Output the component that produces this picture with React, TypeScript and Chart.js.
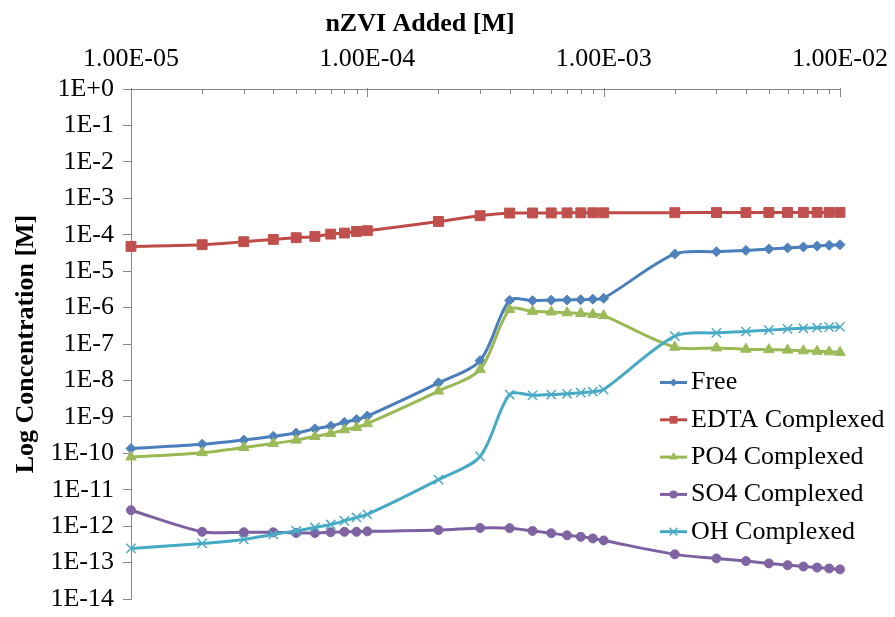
import React, { useEffect, useRef } from 'react';
import { Chart, registerables } from 'chart.js';

Chart.register(...registerables);

// nZVI added [M]
const nzviAdded = [
  1e-5, 2e-5, 3e-5, 4e-5, 5e-5, 6e-5, 7e-5, 8e-5, 9e-5,
  1e-4, 2e-4, 3e-4, 4e-4, 5e-4, 6e-4, 7e-4, 8e-4, 9e-4,
  1e-3, 2e-3, 3e-3, 4e-3, 5e-3, 6e-3, 7e-3, 8e-3, 9e-3,
  1e-2,
];

const freeConc = [
  1.35e-10, 1.77e-10, 2.31e-10, 2.92e-10, 3.6e-10, 4.7e-10, 5.6e-10, 7.1e-10, 8.5e-10,
  1.05e-9, 8.6e-9, 3.5e-8, 1.58e-6, 1.55e-6, 1.6e-6, 1.62e-6, 1.65e-6, 1.7e-6,
  1.8e-6, 2.96e-5, 3.42e-5, 3.71e-5, 4.06e-5, 4.34e-5, 4.6e-5, 4.9e-5, 5.1e-5,
  5.3e-5,
];

const edtaConc = [
  4.78e-5, 5.32e-5, 6.43e-5, 7.43e-5, 8.28e-5, 8.99e-5, 1.04e-4, 1.11e-4, 1.23e-4,
  1.29e-4, 2.31e-4, 3.32e-4, 3.93e-4, 3.95e-4, 3.97e-4, 3.98e-4, 3.99e-4, 4.0e-4,
  4.0e-4, 4.03e-4, 4.05e-4, 4.06e-4, 4.07e-4, 4.08e-4, 4.09e-4, 4.1e-4, 4.1e-4,
  4.1e-4,
];

const po4Conc = [
  7.9e-11, 1.04e-10, 1.44e-10, 1.86e-10, 2.3e-10, 2.9e-10, 3.5e-10, 4.4e-10, 5.1e-10,
  6.5e-10, 5.1e-9, 2.0e-8, 8.8e-7, 7.9e-7, 7.6e-7, 7.2e-7, 6.9e-7, 6.5e-7,
  6.0e-7, 8.2e-8, 7.8e-8, 7.2e-8, 7.0e-8, 6.8e-8, 6.5e-8, 6.3e-8, 6.1e-8,
  5.9e-8,
];

const so4Conc = [
  2.74e-12, 7.0e-13, 6.8e-13, 6.8e-13, 6.5e-13, 6.5e-13, 6.8e-13, 7.0e-13, 7.0e-13,
  7.2e-13, 7.8e-13, 8.9e-13, 8.8e-13, 7.4e-13, 6.4e-13, 5.6e-13, 5.1e-13, 4.6e-13,
  4.05e-13, 1.68e-13, 1.3e-13, 1.1e-13, 9.5e-14, 8.5e-14, 7.8e-14, 7.3e-14, 6.9e-14,
  6.5e-14,
];

const ohConc = [
  2.45e-13, 3.36e-13, 4.32e-13, 5.93e-13, 7.45e-13, 9.2e-13, 1.11e-12, 1.4e-12, 1.73e-12,
  2.09e-12, 1.9e-11, 8.2e-11, 4.1e-9, 3.9e-9, 4.1e-9, 4.3e-9, 4.6e-9, 4.9e-9,
  5.6e-9, 1.64e-7, 2.03e-7, 2.2e-7, 2.4e-7, 2.6e-7, 2.7e-7, 2.8e-7, 2.9e-7,
  2.95e-7,
];

const seriesLabels = ['Free', 'EDTA Complexed', 'PO4 Complexed', 'SO4 Complexed', 'OH Complexed'];

// axis ticks
const xTickValues = [
  1e-5, 2e-5, 3e-5, 4e-5, 5e-5, 6e-5, 7e-5, 8e-5, 9e-5,
  1e-4, 2e-4, 3e-4, 4e-4, 5e-4, 6e-4, 7e-4, 8e-4, 9e-4,
  1e-3, 2e-3, 3e-3, 4e-3, 5e-3, 6e-3, 7e-3, 8e-3, 9e-3,
  1e-2,
];
const xLabelValues = [1e-5, 1e-4, 1e-3, 1e-2];
const xLabels = ['1.00E-05', '1.00E-04', '1.00E-03', '1.00E-02'];
const yTickValues = [1e0, 1e-1, 1e-2, 1e-3, 1e-4, 1e-5, 1e-6, 1e-7, 1e-8, 1e-9, 1e-10, 1e-11, 1e-12, 1e-13, 1e-14];
const yLabels = ['1E+0', '1E-1', '1E-2', '1E-3', '1E-4', '1E-5', '1E-6', '1E-7', '1E-8', '1E-9', '1E-10', '1E-11', '1E-12', '1E-13', '1E-14'];

const FONT = "'Liberation Serif', 'Times New Roman', serif";
const AXIS_GRAY = '#868686';

const styles = [
  { line: '#4A7EBB', fill: '#4F81BD', shape: 'rectRot', r: 5, lr: 4 },
  { line: '#BE4B48', fill: '#C0504D', shape: 'rect', r: 7, lr: 5.5 },
  { line: '#98B954', fill: '#9BBB59', shape: 'triangle', r: 6, lr: 5 },
  { line: '#7D60A0', fill: '#8064A2', shape: 'circle', r: 4.5, lr: 4 },
  { line: '#46AAC5', fill: '#4BACC6', shape: 'crossRot', r: 6.5, lr: 5.5 },
];

function drawMarker(ctx: CanvasRenderingContext2D, shape: string, x: number, y: number, r: number, color: string) {
  ctx.save();
  ctx.fillStyle = color;
  ctx.strokeStyle = color;
  ctx.lineWidth = 1.5;
  ctx.beginPath();
  if (shape === 'rectRot') {
    ctx.moveTo(x, y - r); ctx.lineTo(x + r, y); ctx.lineTo(x, y + r); ctx.lineTo(x - r, y); ctx.closePath(); ctx.fill();
  } else if (shape === 'rect') {
    const s = r * Math.SQRT1_2;
    ctx.rect(x - s, y - s, 2 * s, 2 * s); ctx.fill();
  } else if (shape === 'triangle') {
    const a = (2 * Math.PI) / 3;
    for (let i = 0; i < 3; i++) {
      const px = x + Math.sin(i * a) * r;
      const py = y - Math.cos(i * a) * r;
      if (i === 0) ctx.moveTo(px, py); else ctx.lineTo(px, py);
    }
    ctx.closePath(); ctx.fill();
  } else if (shape === 'circle') {
    ctx.arc(x, y, r, 0, Math.PI * 2); ctx.fill();
  } else if (shape === 'crossRot') {
    const d = r * Math.SQRT1_2;
    ctx.moveTo(x - d, y - d); ctx.lineTo(x + d, y + d);
    ctx.moveTo(x + d, y - d); ctx.lineTo(x - d, y + d);
    ctx.stroke();
  }
  ctx.restore();
}

const xTickMarksPlugin = {
  id: 'xTickMarks',
  beforeDatasetsDraw(chart: any) {
    const { ctx, chartArea, scales } = chart;
    const sx = scales.x;
    ctx.save();
    ctx.strokeStyle = AXIS_GRAY;
    ctx.lineWidth = 1;
    for (const v of xTickValues) {
      const px = Math.round(sx.getPixelForValue(v)) + 0.5;
      const major = xLabelValues.includes(v);
      ctx.beginPath();
      ctx.moveTo(px, chartArea.top - (major ? 1 : 0));
      ctx.lineTo(px, chartArea.top + (major ? 8 : 5));
      ctx.stroke();
    }
    ctx.restore();
  },
};

const insideLegendPlugin = {
  id: 'insideLegend',
  afterDraw(chart: any) {
    const { ctx, chartArea } = chart;
    const x0 = chartArea.right - 180;
    const y0 = chartArea.top + 293.5;
    const step = 37.3;
    ctx.save();
    chart.data.datasets.forEach((ds: any, i: number) => {
      const st = styles[i];
      const y = y0 + i * step;
      ctx.strokeStyle = st.line;
      ctx.lineWidth = 3;
      ctx.beginPath();
      ctx.moveTo(x0, y);
      ctx.lineTo(x0 + 27, y);
      ctx.stroke();
      drawMarker(ctx, st.shape, x0 + 13.5, y, st.lr, st.fill);
      ctx.fillStyle = '#000';
      ctx.font = `26px ${FONT}`;
      ctx.textAlign = 'left';
      ctx.textBaseline = 'middle';
      ctx.fillText(ds.label, x0 + 31, y);
    });
    ctx.restore();
  },
};

export default function App() {
  const canvasRef = useRef<HTMLCanvasElement | null>(null);

  useEffect(() => {
    document.body.style.margin = '0';
    document.body.style.background = '#ffffff';
    const canvas = canvasRef.current;
    if (!canvas) return;

    const allSeries = [freeConc, edtaConc, po4Conc, so4Conc, ohConc];
    const datasets = allSeries.map((values, i) => ({
      label: seriesLabels[i],
      data: nzviAdded.map((x, j) => ({ x, y: values[j] })),
      borderColor: styles[i].line,
      backgroundColor: styles[i].fill,
      borderWidth: 3,
      pointStyle: styles[i].shape,
      pointRadius: styles[i].r,
      pointBackgroundColor: styles[i].fill,
      pointBorderColor: styles[i].fill,
      pointBorderWidth: styles[i].shape === 'crossRot' ? 1.5 : 1,
      pointHoverRadius: styles[i].r,
      tension: 0.3,
      fill: false,
      clip: false as any,
      order: 5 - i,
    }));

    const tickFont = { family: FONT, size: 26 };
    const titleFont = { family: FONT, size: 26, weight: 'bold' as const, lineHeight: 1.2 };

    const zeroPad = (s: any) => {
      s.paddingLeft = 0;
      s.paddingRight = 0;
      s.paddingTop = 0;
      s.paddingBottom = 0;
    };

    const chart = new Chart(canvas, {
      type: 'line',
      data: { datasets },
      options: {
        animation: false,
        responsive: false,
        maintainAspectRatio: false,
        events: [],
        layout: { padding: { left: 0, right: 55, top: 0, bottom: 18 } },
        plugins: {
          legend: { display: false },
          tooltip: { enabled: false },
          title: {
            display: true,
            text: 'nZVI Added [M]',
            font: titleFont,
            color: '#000',
            padding: { top: 9, bottom: 0 },
          },
        },
        scales: {
          x: {
            type: 'logarithmic',
            position: 'top',
            min: 1e-5,
            max: 1e-2,
            afterBuildTicks: (s: any) => {
              s.ticks = xTickValues.map((v) => ({ value: v }));
            },
            afterFit: (s: any) => {
              s.height = 89 - 40.2;
              zeroPad(s);
            },
            ticks: {
              autoSkip: false,
              maxRotation: 0,
              minRotation: 0,
              padding: 14,
              font: tickFont,
              color: '#000',
              callback: (v: any) => {
                const k = xLabelValues.indexOf(Number(v));
                return k >= 0 ? xLabels[k] : '';
              },
            },
            grid: { drawOnChartArea: false, drawTicks: false },
            border: { display: true, color: AXIS_GRAY, width: 1 },
          },
          y: {
            type: 'logarithmic',
            min: 1e-14,
            max: 1,
            afterBuildTicks: (s: any) => {
              s.ticks = yTickValues.map((v) => ({ value: v }));
            },
            afterFit: (s: any) => {
              s.width = 131;
              zeroPad(s);
            },
            ticks: {
              autoSkip: false,
              padding: 9,
              font: tickFont,
              color: '#000',
              callback: (v: any) => {
                const k = yTickValues.indexOf(Number(v));
                return k >= 0 ? yLabels[k] : '';
              },
            },
            grid: { drawOnChartArea: false, drawTicks: true, tickLength: 8, tickColor: AXIS_GRAY },
            border: { display: true, color: AXIS_GRAY, width: 1 },
            title: {
              display: true,
              text: 'Log Concentration [M]',
              font: titleFont,
              color: '#000',
              padding: { top: 11, bottom: 0 },
            },
          },
        },
      } as any,
      plugins: [xTickMarksPlugin, insideLegendPlugin],
    });

    return () => {
      chart.destroy();
    };
  }, []);

  return (
    <div style={{ width: 895, height: 617, position: 'relative', background: '#fff' }}>
      <canvas ref={canvasRef} width={895} height={617} style={{ display: 'block', width: 895, height: 617 }} />
    </div>
  );
}
